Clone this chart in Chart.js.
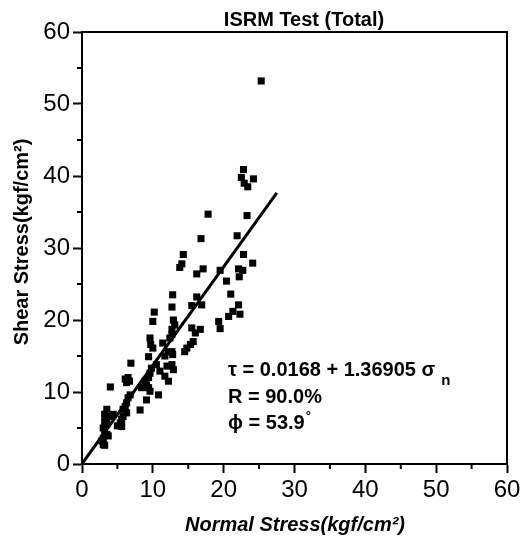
<!DOCTYPE html>
<html>
<head>
<meta charset="utf-8">
<script src="https://cdn.jsdelivr.net/npm/chart.js@4"></script>
<style>
  body { margin: 0; background: #fff; }
  #wrap { width: 532px; height: 541px; position: relative; }
</style>
</head>
<body>
<div id="wrap"><canvas id="isrmChart"></canvas></div>
<script>
var normalStress = [
  25.3, 22.8, 22.5, 22.9, 24.2, 23.4, 17.8, 23.3, 16.8, 21.9,
  14.3, 14.1, 13.8, 22.8, 24.1, 17.1, 16.2, 19.5, 22.1, 22.7,
  20.4, 22.2, 12.8, 16.2, 21.0, 12.7, 15.5, 16.9, 22.1, 10.2,
  21.3, 22.3, 20.7, 19.3, 19.5, 12.9, 13.1, 12.7, 15.5, 16.0,
  16.7, 15.7, 15.3, 14.8, 14.5, 12.4, 12.7, 12.8, 12.7, 12.9,
  10.0, 12.7, 9.6, 9.7, 10.0, 11.4, 12.2, 11.7, 9.4, 6.9,
  10.5, 9.8, 9.6, 11.0, 12.0, 6.5, 11.7, 4.0, 6.1, 6.7,
  6.3, 9.4, 8.9, 9.1, 9.4, 9.6, 8.4, 10.8, 9.1, 12.2,
  6.8, 6.5, 6.3, 6.1, 5.8, 6.3, 5.8, 5.6, 5.4, 8.2,
  5.6, 5.0, 3.5, 3.2, 3.5, 4.0, 4.4, 3.2, 3.5, 3.0,
  3.2, 3.5, 3.7, 3.0, 2.8, 3.0, 3.2
];
var shearStress = [
  53.2, 40.9, 39.8, 39.0, 39.6, 38.5, 34.7, 34.5, 31.3, 31.7,
  29.1, 27.8, 27.3, 29.1, 27.9, 27.1, 26.4, 26.9, 27.1, 26.9,
  25.4, 26.0, 23.5, 23.2, 23.6, 21.8, 22.0, 22.1, 22.1, 21.1,
  21.2, 20.8, 20.5, 19.8, 18.8, 20.0, 19.3, 18.7, 18.9, 18.2,
  18.7, 17.0, 16.6, 16.1, 15.6, 17.5, 15.6, 15.2, 13.8, 13.1,
  19.8, 18.0, 17.5, 16.6, 16.1, 16.8, 15.6, 15.0, 14.9, 14.0,
  13.8, 13.3, 12.6, 12.9, 13.6, 12.0, 12.2, 10.7, 11.8, 11.5,
  11.3, 12.0, 11.5, 11.0, 10.6, 10.1, 10.6, 9.6, 8.9, 11.5,
  9.6, 9.2, 8.5, 8.0, 7.6, 7.1, 6.6, 6.2, 5.7, 7.5,
  5.2, 5.3, 7.6, 6.9, 6.4, 6.6, 6.9, 5.9, 5.5, 5.0,
  4.5, 4.1, 3.9, 3.6, 3.2, 2.7, 2.6
];
// fitted line end points
var fitX = [0, 27.5];
var fitY = [0.02, 37.67];

var xTicks = [0, 10, 20, 30, 40, 50, 60];
var yTicks = [0, 10, 20, 30, 40, 50, 60];
var minorTicks = [5, 15, 25, 35, 45, 55];

var chartTitle = 'ISRM Test (Total)';
var xTitle = 'Normal Stress(kgf/cm\u00B2)';
var yTitle = 'Shear Stress(kgf/cm\u00B2)';
var fitLines = ['\u03C4 = 0.0168 + 1.36905 \u03C3', 'R = 90.0%', '\u03D5 = 53.9'];

var FONT = "'Liberation Sans', Arial, sans-serif";

var points = normalStress.map(function (x, i) { return { x: x, y: shearStress[i] }; });
var fitPoints = fitX.map(function (x, i) { return { x: x, y: fitY[i] }; });

var decor = {
  id: 'decor',
  afterDraw: function (chart) {
    var c = chart.ctx, a = chart.chartArea;
    var xs = chart.scales.x, ys = chart.scales.y;
    c.save();
    c.strokeStyle = '#000';
    c.lineWidth = 2;
    c.beginPath();
    c.moveTo(a.left, a.top); c.lineTo(a.right, a.top); c.lineTo(a.right, a.bottom);
    c.stroke();
    // minor ticks
    minorTicks.forEach(function (v) {
      var px = xs.getPixelForValue(v), py = ys.getPixelForValue(v);
      c.beginPath();
      c.moveTo(px, a.bottom); c.lineTo(px, a.bottom + 5);
      c.moveTo(a.left, py); c.lineTo(a.left - 5, py);
      c.stroke();
    });
    c.fillStyle = '#000';
    c.textBaseline = 'middle';
    c.textAlign = 'center';
    c.font = 'bold 20px ' + FONT;
    c.fillText(chartTitle, 304, 20);
    c.font = 'italic bold 20px ' + FONT;
    c.fillText(xTitle, 295, 525);
    c.save();
    c.translate(22, 242);
    c.rotate(-Math.PI / 2);
    c.font = 'bold 20px ' + FONT;
    c.fillText(yTitle, 0, 0);
    c.restore();
    c.textAlign = 'left';
    c.font = 'bold 20px ' + FONT;
    c.fillText(fitLines[0], 228, 370);
    var w = c.measureText(fitLines[0]).width;
    c.font = 'bold 15px ' + FONT;
    c.fillText('n', 228 + w + 6, 381);
    c.font = 'bold 20px ' + FONT;
    c.fillText(fitLines[1], 228, 397);
    c.fillText(fitLines[2], 228, 423);
    var w2 = c.measureText(fitLines[2]).width;
    c.font = 'bold 13px ' + FONT;
    c.fillText('\u00B0', 228 + w2 + 1, 416);
    c.restore();
  }
};

var ctx = document.getElementById('isrmChart');
var isrmChart = new Chart(ctx, {
  type: 'scatter',
  data: {
    datasets: [{
      label: 'data',
      data: points,
      pointStyle: 'rect',
      pointRadius: 5,
      pointHoverRadius: 5,
      backgroundColor: '#000',
      borderColor: '#000',
      borderWidth: 0
    }, {
      type: 'line',
      label: 'fit',
      data: fitPoints,
      showLine: true,
      borderColor: '#000',
      borderWidth: 3,
      pointRadius: 0,
      fill: false
    }]
  },
  options: {
    responsive: true,
    maintainAspectRatio: false,
    animation: false,
    layout: { padding: { left: 0, right: 25, top: 32, bottom: 0 } },
    scales: {
      x: {
        type: 'linear',
        min: 0,
        max: 60,
        afterFit: function (s) { s.height = 77; },
        afterBuildTicks: function (s) { s.ticks = xTicks.map(function (v) { return { value: v }; }); },
        ticks: { autoSkip: false, maxRotation: 0, padding: 3, color: '#000', font: { family: FONT, size: 24 } },
        grid: { drawOnChartArea: false, tickLength: 9, tickWidth: 2, tickColor: '#000' },
        border: { display: true, color: '#000', width: 2 }
      },
      y: {
        type: 'linear',
        min: 0,
        max: 60,
        afterFit: function (s) { s.width = 82; },
        afterBuildTicks: function (s) { s.ticks = yTicks.map(function (v) { return { value: v }; }); },
        ticks: { autoSkip: false, padding: 3, color: '#000', font: { family: FONT, size: 24 } },
        grid: { drawOnChartArea: false, tickLength: 9, tickWidth: 2, tickColor: '#000' },
        border: { display: true, color: '#000', width: 2 }
      }
    },
    plugins: {
      legend: { display: false },
      tooltip: { enabled: false }
    }
  },
  plugins: [decor]
});
</script>
</body>
</html>
